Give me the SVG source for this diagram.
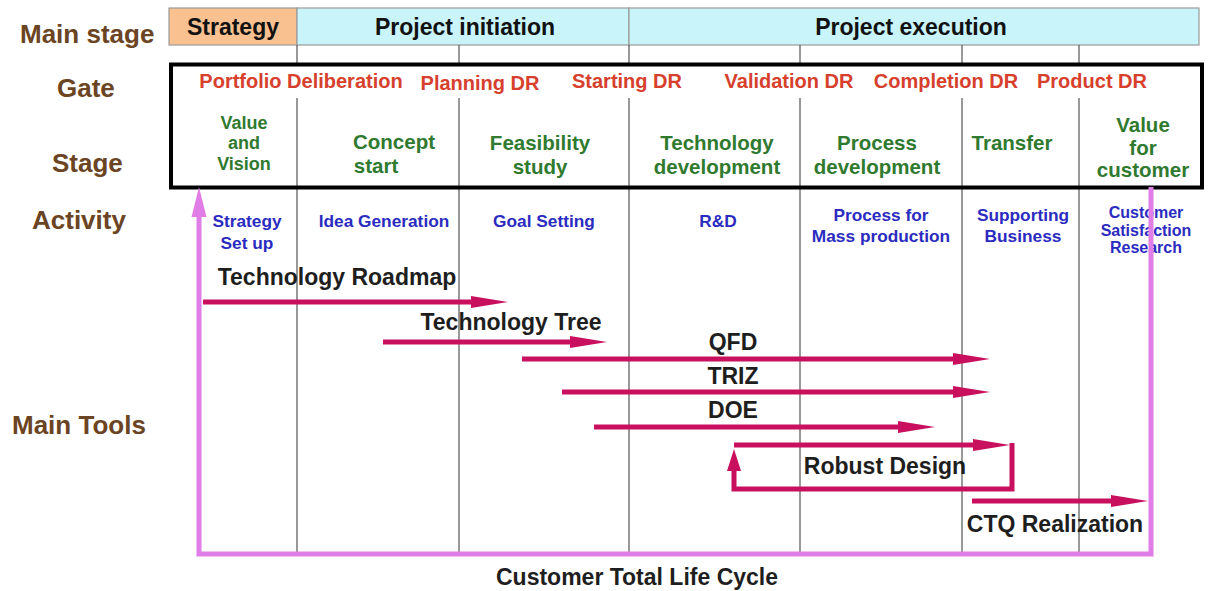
<svg xmlns="http://www.w3.org/2000/svg" width="1211" height="591" viewBox="0 0 1211 591">
<style>
text{font-family:"Liberation Sans",Arial,sans-serif;font-weight:bold;text-anchor:middle}
.row{fill:#6b4423;font-size:26px;text-anchor:start}
.hdr{fill:#111;font-size:23px}
.gate{fill:#d6402c;font-size:20px}
.stg{fill:#2f7a2f;font-size:20.5px}
.stg2{fill:#2f7a2f;font-size:18px}
.act{fill:#2b2bc0;font-size:17.3px}
.act2{fill:#2b2bc0;font-size:16px}
.tool{fill:#1e1e1e;font-size:23px}
.grid{stroke:#555;stroke-width:1.2;fill:none}
.arr{stroke:#c8105e;stroke-width:5;fill:none}
.pink{stroke:#e07de6;stroke-width:5;fill:none}
</style>
<defs>
<marker id="ah" markerUnits="userSpaceOnUse" markerWidth="38" markerHeight="14" viewBox="0 0 38 14" refX="2" refY="7" orient="auto"><path d="M0,1 L37,7 L0,13 z" fill="#c8105e"/></marker>
<marker id="ahs" markerUnits="userSpaceOnUse" markerWidth="24" markerHeight="15" viewBox="0 0 24 15" refX="2" refY="7.5" orient="auto"><path d="M0,0.5 L22,7.5 L0,14.5 z" fill="#c8105e"/></marker>
<marker id="ahp" markerUnits="userSpaceOnUse" markerWidth="31" markerHeight="16" viewBox="0 0 31 16" refX="2" refY="8" orient="auto"><path d="M0,0.5 L30,8 L0,15.5 z" fill="#e07de6"/></marker>
</defs>
<rect width="1211" height="591" fill="#fff"/>

<g id="row-labels">
<text class="row" x="20" y="43">Main stage</text>
<text class="row" x="57" y="97">Gate</text>
<text class="row" x="52" y="172">Stage</text>
<text class="row" x="32" y="229">Activity</text>
<text class="row" x="12" y="434">Main Tools</text>
</g>

<g id="main-stage">
<g id="ms-strategy"><rect x="169" y="8" width="128" height="37" fill="#f9c18f" stroke="#999" stroke-width="1.2"/><text class="hdr" x="233" y="35">Strategy</text></g>
<g id="ms-initiation"><rect x="297" y="8" width="332" height="37" fill="#c8f4fa" stroke="#999" stroke-width="1.2"/><text class="hdr" x="465" y="35">Project initiation</text></g>
<g id="ms-execution"><rect x="629" y="8" width="570" height="37" fill="#c8f4fa" stroke="#999" stroke-width="1.2"/><text class="hdr" x="911" y="35">Project execution</text></g>
</g>

<g id="grid">
<path class="grid" d="M297,45V63 M459,45V63 M629,45V63 M800,45V63 M962,45V63 M1079,45V63"/>
<path class="grid" d="M297,98V554 M459,98V554 M629,98V554 M800,98V554 M962,98V554 M1079,98V554"/>
</g>

<g id="gate-stage-box"><rect x="171" y="64.5" width="1031" height="123" fill="none" stroke="#000" stroke-width="4"/></g>

<g id="gates">
<text class="gate" x="301" y="88">Portfolio Deliberation</text>
<text class="gate" x="480" y="90">Planning DR</text>
<text class="gate" x="627" y="88">Starting DR</text>
<text class="gate" x="789" y="88">Validation DR</text>
<text class="gate" x="946" y="88">Completion DR</text>
<text class="gate" x="1092" y="88">Product DR</text>
</g>

<g id="stages">
<g id="st-value-vision"><text class="stg2" x="244" y="129">Value</text><text class="stg2" x="244" y="149.3">and</text><text class="stg2" x="244" y="169.6">Vision</text></g>
<g id="st-concept"><text class="stg" x="394" y="149">Concept</text><text class="stg" x="376" y="173">start</text></g>
<g id="st-feasibility"><text class="stg" x="540" y="150">Feasibility</text><text class="stg" x="540" y="174">study</text></g>
<g id="st-techdev"><text class="stg" x="717" y="150">Technology</text><text class="stg" x="717" y="174">development</text></g>
<g id="st-procdev"><text class="stg" x="877" y="150">Process</text><text class="stg" x="877" y="174">development</text></g>
<g id="st-transfer"><text class="stg" x="1012" y="150">Transfer</text></g>
<g id="st-value-customer"><text class="stg" x="1143" y="132">Value</text><text class="stg" x="1143" y="155">for</text><text class="stg" x="1143" y="177">customer</text></g>
</g>

<g id="activities">
<g id="ac-strategy"><text class="act" x="247" y="227">Strategy</text><text class="act" x="247" y="249">Set up</text></g>
<g id="ac-idea"><text class="act" x="384" y="227">Idea Generation</text></g>
<g id="ac-goal"><text class="act" x="544" y="227">Goal Setting</text></g>
<g id="ac-rd"><text class="act" x="718" y="227">R&amp;D</text></g>
<g id="ac-mass"><text class="act" x="881" y="221">Process for</text><text class="act" x="881" y="242">Mass production</text></g>
<g id="ac-support"><text class="act" x="1023" y="221">Supporting</text><text class="act" x="1023" y="242">Business</text></g>
<g id="ac-csr"><text class="act2" x="1146" y="218">Customer</text><text class="act2" x="1146" y="236">Satisfaction</text><text class="act2" x="1146" y="253">Research</text></g>
</g>

<g id="connectors">
<path class="pink" d="M1151,187V554H199V215" marker-end="url(#ahp)"/>
<line class="arr" x1="203" y1="302" x2="473" y2="302" marker-end="url(#ah)"/>
<line class="arr" x1="383" y1="342" x2="572" y2="342" marker-end="url(#ah)"/>
<line class="arr" x1="522" y1="359" x2="955" y2="359" marker-end="url(#ah)"/>
<line class="arr" x1="562" y1="392" x2="955" y2="392" marker-end="url(#ah)"/>
<line class="arr" x1="594" y1="427" x2="900" y2="427" marker-end="url(#ah)"/>
<line class="arr" x1="734" y1="445" x2="975" y2="445" marker-end="url(#ah)"/>
<path class="arr" stroke-width="4" d="M1012,443V489H734V469" marker-end="url(#ahs)"/>
<line class="arr" x1="972" y1="501" x2="1113" y2="501" marker-end="url(#ah)"/>
</g>

<g id="tools">
<text class="tool" x="337" y="285">Technology Roadmap</text>
<text class="tool" x="511" y="330">Technology Tree</text>
<text class="tool" x="733" y="350">QFD</text>
<text class="tool" x="733" y="384">TRIZ</text>
<text class="tool" x="733" y="418">DOE</text>
<text class="tool" x="885" y="474">Robust Design</text>
<text class="tool" x="1055" y="532">CTQ Realization</text>
</g>

<g id="footer"><text class="tool" x="637" y="585" font-size="22">Customer Total Life Cycle</text></g>
</svg>
